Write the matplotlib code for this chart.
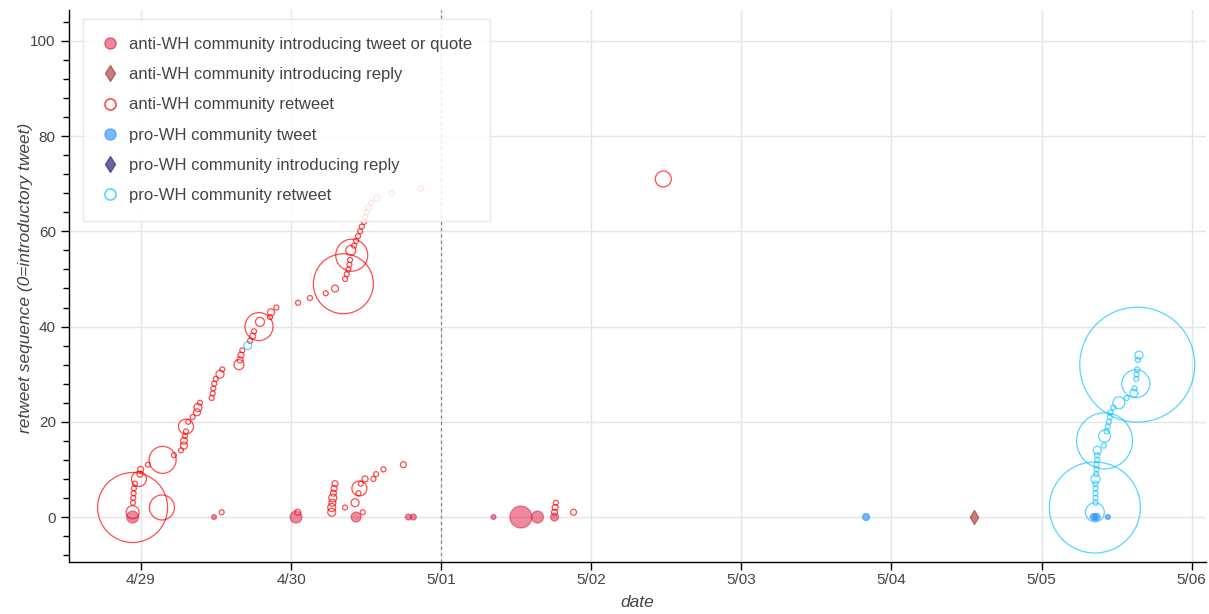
import matplotlib
matplotlib.use("Agg")
import matplotlib.pyplot as plt
import matplotlib.dates as mdates
from matplotlib.lines import Line2D
from matplotlib.ticker import FuncFormatter, MultipleLocator
import numpy as np
import pandas as pd

# hours after 4/29 00:00, retweet sequence, bubble diameter (px)
anti_rt_hours = [-1.33, -1.33, -1.28, -1.23, -1.17, -1.12, -0.96, -0.32, -0.16, -0.05,
                 1.12, 3.36, 3.47, 5.28, 6.40, 6.88, 6.88, 7.04, 7.20, 7.20,
                 7.57, 8.27, 8.96, 9.12, 9.44, 11.31, 11.47, 11.57, 11.73, 11.95,
                 12.64, 13.01, 15.68, 15.84, 16.00, 16.21, 17.44, 17.87, 18.08, 18.88,
                 19.04, 20.64, 20.80, 21.65, 25.12, 27.04, 29.55, 31.04, 32.37, 32.64,
                 32.91, 33.17, 33.33, 33.44, 33.71, 33.55, 34.08, 34.40, 34.72, 35.04,
                 35.31, 35.68, 35.89, 36.11, 36.37, 36.80, 37.71, 40.11, 44.75, 83.52,
                 12.91, 25.07, 30.51, 30.51, 30.61, 30.67, 30.77, 30.88, 31.04, 32.64,
                 34.24, 35.47, 34.77, 34.93, 35.15, 35.84, 37.17, 37.60, 38.77, 41.97,
                 66.13, 66.24, 66.35, 69.17]
anti_rt_seq = [2, 1, 3, 4, 5, 6, 7, 8, 9, 10,
               11, 2, 12, 13, 14, 15, 16, 17, 18, 19,
               20, 21, 22, 23, 24, 25, 26, 27, 28, 29,
               30, 31, 32, 33, 34, 35, 37, 38, 39, 40,
               41, 42, 43, 44, 45, 46, 47, 48, 49, 50,
               51, 52, 53, 54, 55, 56, 57, 58, 59, 60,
               61, 62, 63, 64, 65, 66, 67, 68, 69, 71,
               1, 1, 1, 2, 3, 4, 5, 6, 7, 2,
               3, 1, 5, 6, 7, 8, 8, 9, 10, 11,
               1, 2, 3, 1]
anti_rt_size = [70, 13, 5, 5, 5, 5, 5, 15, 6, 6,
                5, 25, 27, 5, 5, 7, 7, 5, 5, 15,
                5, 5, 7, 8, 5, 5, 5, 5, 5, 5,
                8, 5, 10, 6, 6, 5, 5, 6, 5, 28,
                9, 5, 7, 5, 5, 5, 5, 7, 60, 5,
                5, 5, 5, 5, 32, 10, 5, 5, 5, 5,
                5, 5, 5, 5, 6, 5, 6, 5, 5, 16,
                5, 6, 8, 8, 7, 8, 6, 6, 6, 5,
                8, 5, 5, 15, 5, 6, 5, 5, 5, 6,
                6, 6, 5, 6]

anti_tw_hours = [-1.33, 11.68, 24.80, 34.40, 42.77, 43.57, 56.37, 60.75, 63.41, 66.13]
anti_tw_seq = [0] * 10
anti_tw_size = [12, 5, 12, 10, 6, 6, 5, 22, 12, 8]

anti_reply_hours = [133.17]
anti_reply_seq = [0]

pro_tw_hours = [115.95, 152.37, 152.80, 154.61]
pro_tw_seq = [0, 0, 0, 0]
pro_tw_size = [7, 7, 7, 5]

pro_reply_hours = []
pro_reply_seq = []

pro_rt_hours = [17.07, 152.53, 152.53, 152.64, 152.64, 152.64, 152.64, 152.64, 152.64, 152.75,
                152.80, 152.80, 152.91, 152.91, 152.91, 153.97, 154.08, 154.08, 154.40, 154.61,
                154.77, 154.93, 155.04, 155.47, 156.37, 157.60, 158.77, 158.88, 159.09, 159.15,
                159.20, 159.31, 159.31, 159.41, 159.57]
pro_rt_seq = [36, 2, 1, 3, 4, 5, 6, 7, 8, 9,
              10, 11, 12, 13, 14, 15, 16, 17, 18, 19,
              20, 21, 22, 23, 24, 25, 26, 27, 28, 29,
              30, 31, 32, 33, 34]
pro_rt_size = [8, 91, 19, 5, 5, 5, 5, 5, 9, 5,
               5, 5, 5, 5, 8, 5, 56, 12, 5, 5,
               5, 5, 5, 5, 12, 5, 8, 5, 28, 5,
               5, 5, 115, 5, 8]

start = pd.Timestamp("2019-04-29")


def to_dates(hours):
    return mdates.date2num(start + pd.to_timedelta(np.array(hours, dtype=float), unit="h"))


def px_area(d):
    # diameter in pixels -> scatter area in pt^2 (dpi 100)
    return (np.array(d, dtype=float) * 0.72) ** 2


plt.rcParams["font.family"] = ["Liberation Sans", "DejaVu Sans"]
txt = "#444444"

fig = plt.figure(figsize=(12.09, 6.14), dpi=100)
ax = fig.add_axes([69 / 1209, 52 / 614, 1137 / 1209, 552 / 614])

# scatter layers
ax.scatter(to_dates(anti_rt_hours), anti_rt_seq, s=px_area(anti_rt_size),
           facecolors="none", edgecolors="red", alpha=0.7, linewidths=0.9, zorder=3)
ax.scatter(to_dates(pro_rt_hours), pro_rt_seq, s=px_area(pro_rt_size),
           facecolors="none", edgecolors="deepskyblue", alpha=0.65, linewidths=0.9, zorder=3)
ax.scatter(to_dates(anti_tw_hours), anti_tw_seq, s=px_area(anti_tw_size),
           facecolors="crimson", edgecolors="crimson", alpha=0.5, linewidths=0.9, zorder=4)
ax.scatter(to_dates(pro_tw_hours), pro_tw_seq, s=px_area(pro_tw_size),
           facecolors="dodgerblue", edgecolors="dodgerblue", alpha=0.6, linewidths=0.9, zorder=4)
ax.scatter(to_dates(anti_reply_hours), anti_reply_seq, s=(10 * 0.72) ** 2, marker="d",
           facecolors="brown", edgecolors="brown", alpha=0.6, linewidths=0.9, zorder=4)
ax.scatter(to_dates(pro_reply_hours), pro_reply_seq, marker="d",
           facecolors="darkslateblue", edgecolors="darkslateblue", alpha=0.8, zorder=4)

# 5/01 marker line
ax.axvline(to_dates([48.0])[0], color="#888888", linestyle=(0, (2.5, 2.5)), lw=0.9, zorder=2)

ax.set_xlim(to_dates([-11.5])[0], to_dates([170.3])[0])
ax.set_ylim(-9.45, 106.5)

ax.xaxis.set_major_locator(mdates.DayLocator())
ax.xaxis.set_major_formatter(FuncFormatter(
    lambda v, p: "{}/{:02d}".format(mdates.num2date(v).month, mdates.num2date(v).day)))
ax.yaxis.set_major_locator(MultipleLocator(20))
ax.yaxis.set_minor_locator(MultipleLocator(4))

ax.grid(True, which="major", color="#e5e5e5", lw=1)
ax.set_axisbelow(True)
for side in ["top", "right"]:
    ax.spines[side].set_visible(False)
for side in ["left", "bottom"]:
    ax.spines[side].set_linewidth(1)
ax.tick_params(which="major", length=6, width=1, colors="black", labelcolor=txt, labelsize=11)
ax.tick_params(axis="x", which="major", pad=2)
ax.tick_params(axis="y", which="major", pad=3.5)
ax.tick_params(which="minor", length=4, width=1, colors="black")

ax.set_xlabel("date", fontstyle="italic", fontsize=12.5, color=txt, labelpad=6)
ax.set_ylabel("retweet sequence (0=introductory tweet)", fontstyle="italic", fontsize=12.5,
              color=txt)
ax.yaxis.set_label_coords(-0.0317, 0.514)

handles = [
    Line2D([], [], ls="", marker="o", markersize=8, markerfacecolor=(0.86, 0.08, 0.24, 0.5),
           markeredgecolor=(0.86, 0.08, 0.24, 0.6)),
    Line2D([], [], ls="", marker="d", markersize=8, markerfacecolor=(0.65, 0.16, 0.16, 0.6),
           markeredgecolor=(0.65, 0.16, 0.16, 0.6)),
    Line2D([], [], ls="", marker="o", markersize=8, markerfacecolor="white",
           markeredgecolor=(1, 0, 0, 0.7), markeredgewidth=1.2),
    Line2D([], [], ls="", marker="o", markersize=8, markerfacecolor=(0.12, 0.56, 1, 0.6),
           markeredgecolor=(0.12, 0.56, 1, 0.6)),
    Line2D([], [], ls="", marker="d", markersize=8, markerfacecolor=(0.28, 0.24, 0.55, 0.8),
           markeredgecolor=(0.28, 0.24, 0.55, 0.8)),
    Line2D([], [], ls="", marker="o", markersize=8, markerfacecolor="white",
           markeredgecolor=(0, 0.75, 1, 0.65), markeredgewidth=1.2),
]
labels = ["anti-WH community introducing tweet or quote",
          "anti-WH community introducing reply",
          "anti-WH community retweet",
          "pro-WH community tweet",
          "pro-WH community introducing reply",
          "pro-WH community retweet"]
leg = ax.legend(handles, labels, loc="upper left", bbox_to_anchor=(0.0123, 0.984),
                borderaxespad=0, fontsize=12, labelcolor=txt, frameon=True, fancybox=False,
                edgecolor="#e5e5e5", framealpha=0.85, borderpad=1.1, labelspacing=0.91,
                handlelength=1.0, handletextpad=0.65)
leg.get_frame().set_linewidth(1)
leg.set_zorder(5)

fig.savefig("out.png", dpi=100)
